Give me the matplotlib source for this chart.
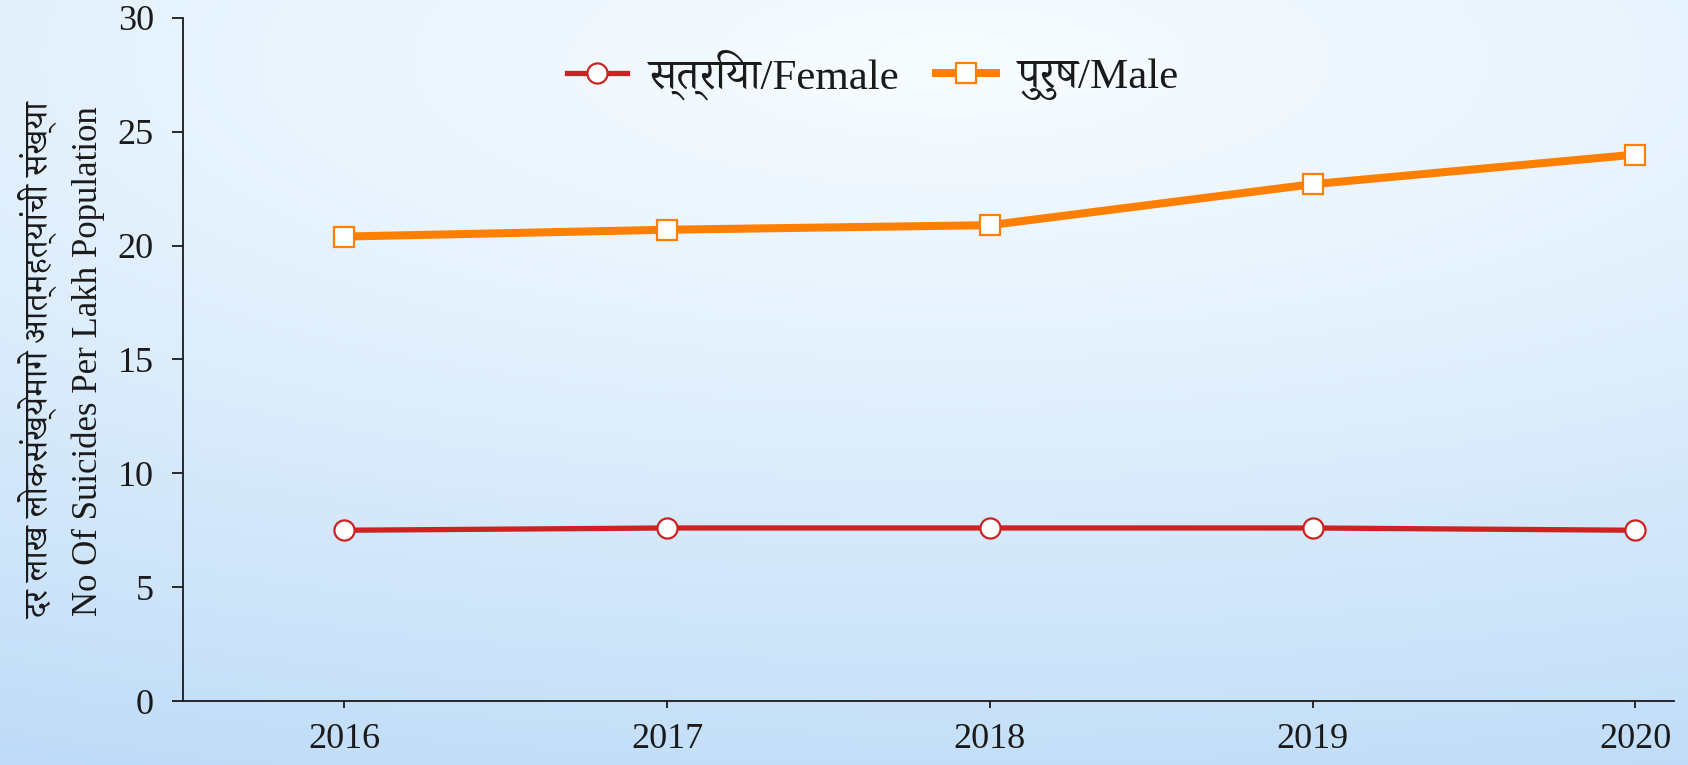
import numpy as np
import matplotlib
matplotlib.use("Agg")
import matplotlib.pyplot as plt
from matplotlib import font_manager

years = [2016, 2017, 2018, 2019, 2020]
female = [7.5, 7.6, 7.6, 7.6, 7.5]
male = [20.4, 20.7, 20.9, 22.7, 24.0]
female_label = "स्त्रिया/Female"
male_label = "पुरुष/Male"
ylabel_mr = "दर लाख लोकसंख्येमागे आत्महत्यांची संख्या"
ylabel_en = "No Of Suicides Per Lakh Population"
yticks = [0, 5, 10, 15, 20, 25, 30]

avail = {f.name for f in font_manager.fontManager.ttflist}
fams = ["Liberation Serif"]
for cand in ["Noto Serif Devanagari", "Noto Sans Devanagari", "Lohit Devanagari",
             "Gargi", "Kalimati", "FreeSerif", "Mukta", "Hind"]:
    if cand in avail:
        fams.append(cand)
fams.append("DejaVu Sans")
plt.rcParams['font.family'] = fams

W, H = 1688, 765
fig = plt.figure(figsize=(W / 100, H / 100), dpi=100)

# background gradient
bg = fig.add_axes([0, 0, 1, 1], zorder=-10)
yy, xx = np.mgrid[0:H, 0:W]
t = np.sqrt(((xx - 950) / 2300.0) ** 2 + ((yy - 60) / 760.0) ** 2)
f = np.clip(t, 0, 1) ** 1.15
light = np.array([0xf7, 0xfc, 0xff]) / 255.0
dark = np.array([0xbf, 0xdc, 0xf8]) / 255.0
img = light[None, None, :] * (1 - f[..., None]) + dark[None, None, :] * f[..., None]
bg.imshow(img, aspect='auto', extent=[0, 1, 0, 1], origin='upper')
bg.axis('off')

ax = fig.add_axes([183 / W, 1 - 701 / H, (1674 - 183) / W, (701 - 18) / H])
ax.patch.set_alpha(0)

ax.plot(years, female, color='#cc2222', lw=3.8, marker='o', ms=14.5,
        mfc='white', mec='#cc2222', mew=1.6, label=female_label, zorder=3)
ax.plot(years, male, color='#ff8000', lw=5.8, marker='s', ms=15,
        mfc='white', mec='#ff8000', mew=1.6, label=male_label, zorder=3)

ax.set_xlim(2015.5, 2020.12)
ax.set_ylim(0, 30)
ax.set_xticks(years)
ax.set_xticklabels([str(y) for y in years])
ax.set_yticks(yticks)
for s in ['top', 'right']:
    ax.spines[s].set_visible(False)
for s in ['left', 'bottom']:
    ax.spines[s].set_color('#1a1a1a')
    ax.spines[s].set_linewidth(1.3)
ax.tick_params(axis='y', length=8, width=1.3, pad=13, labelsize=26, colors='#1a1a1a')
ax.tick_params(axis='x', length=5, width=1.3, pad=11, labelsize=26, colors='#1a1a1a')

leg = ax.legend(loc='center', bbox_to_anchor=(0.517, 0.902), bbox_transform=fig.transFigure,
                ncol=2, frameon=False, fontsize=31, handlelength=1.4,
                handletextpad=0.5, columnspacing=0.85)
for txt in leg.get_texts():
    txt.set_color('#1a1a1a')

fig.text(38 / W, 1 - 361 / H, ylabel_mr, rotation=90, ha='center', va='center',
         fontsize=24.5, color='#1a1a1a')
fig.text(88 / W, 1 - 361 / H, ylabel_en, rotation=90, ha='center', va='center',
         fontsize=25, color='#1a1a1a')

fig.savefig("out.png", dpi=100)
